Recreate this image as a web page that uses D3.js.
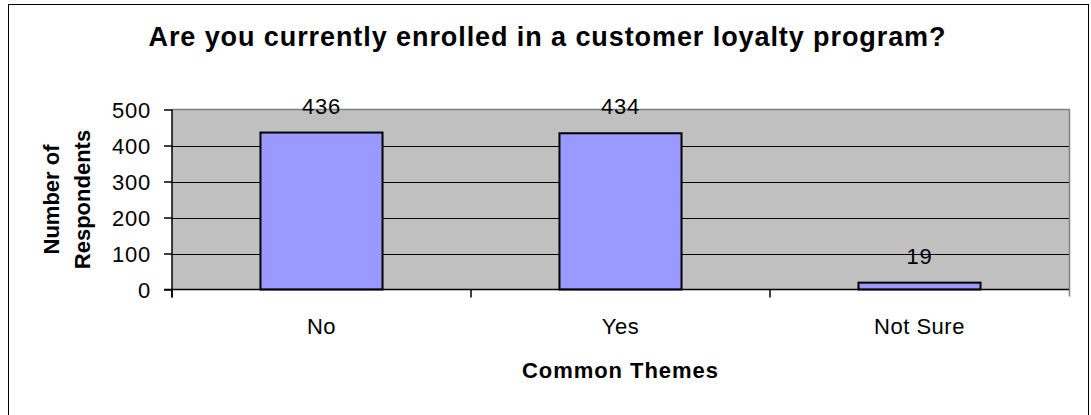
<!DOCTYPE html>
<html>
<head>
<meta charset="utf-8">
<script src="https://cdn.jsdelivr.net/npm/d3@7"></script>
<style>
  html, body { margin: 0; padding: 0; background: #fff; }
  svg { display: block; }
  text { font-family: "Liberation Sans", Arial, sans-serif; fill: #000; }
</style>
</head>
<body>
<svg id="chart" width="1091" height="415"></svg>
<script>
const categories = ["No", "Yes", "Not Sure"];
const values = [436, 434, 19];
const yTicks = [0, 100, 200, 300, 400, 500];
const titleText = "Are you currently enrolled in a customer loyalty program?";
const xTitle = "Common Themes";
const yTitleLines = ["Number of", "Respondents"];

const svg = d3.select("#chart");
const plot = { left: 172, right: 1069, top: 109.5, bottom: 289.5 };

// outer frame
svg.append("rect")
  .attr("x", 8.5).attr("y", 4.5)
  .attr("width", 1080).attr("height", 430)
  .attr("fill", "#fff").attr("stroke", "#000").attr("stroke-width", 1);

const x = d3.scaleBand().domain(categories).range([plot.left, plot.right]).padding(0);
const y = d3.scaleLinear().domain([0, 500]).range([plot.bottom, plot.top]);

// plot background
svg.append("rect")
  .attr("x", plot.left).attr("y", plot.top)
  .attr("width", plot.right - plot.left).attr("height", plot.bottom - plot.top)
  .attr("fill", "#c0c0c0");

// gridlines
svg.append("g").selectAll("line")
  .data(yTicks.filter(t => t > 0 && t < 500))
  .join("line")
  .attr("x1", plot.left).attr("x2", plot.right)
  .attr("y1", d => Math.round(y(d)) + 0.5).attr("y2", d => Math.round(y(d)) + 0.5)
  .attr("stroke", "#000").attr("stroke-width", 1);

// plot border top/right gray
svg.append("path")
  .attr("d", `M${plot.left},${plot.top}H${plot.right + 0.5}V${plot.bottom + 7}`)
  .attr("fill", "none").attr("stroke", "#808080").attr("stroke-width", 1.5);

// bars
const bw = x.bandwidth() / 2.45;
const barData = categories.map((c, i) => ({ c, v: values[i] }));
svg.append("g").selectAll("rect")
  .data(barData)
  .join("rect")
  .attr("x", d => x(d.c) + (x.bandwidth() - bw) / 2)
  .attr("y", d => y(d.v))
  .attr("width", bw)
  .attr("height", d => y(0) - y(d.v))
  .attr("fill", "#9999ff")
  .attr("stroke", "#000").attr("stroke-width", 2);

// value labels
svg.append("g").selectAll("text")
  .data(barData)
  .join("text")
  .attr("x", d => x(d.c) + x.bandwidth() / 2)
  .attr("y", d => y(d.v) - 19)
  .attr("text-anchor", "middle")
  .style("font-size", "22px").style("letter-spacing", "0.8px")
  .text(d => d.v);

// y axis
const yAxis = d3.axisLeft(y).tickValues(yTicks).tickSize(8).tickPadding(13);
const gy = svg.append("g").attr("transform", `translate(${plot.left},0)`).call(yAxis);
gy.select(".domain").attr("stroke", "#000").attr("stroke-width", 1.5).attr("d", `M0,${plot.top}V${plot.bottom + 8}`);
gy.selectAll(".tick line").attr("stroke", "#000").attr("stroke-width", 1.5);
gy.selectAll(".tick text")
  .style("font-size", "22px").style("letter-spacing", "0.8px")
  .style("font-family", "'Liberation Sans', Arial, sans-serif")
  .attr("fill", "#000").attr("dy", "0.36em");

// x axis
const boundaries = [plot.left, ...categories.map(c => x(c) + x.bandwidth())];
const gx = svg.append("g");
gx.append("line")
  .attr("x1", plot.left - 8).attr("x2", plot.right)
  .attr("y1", plot.bottom).attr("y2", plot.bottom)
  .attr("stroke", "#000").attr("stroke-width", 1.5);
gx.selectAll("line.tk").data(boundaries.slice(0, -1)).join("line").attr("class", "tk")
  .attr("x1", d => d).attr("x2", d => d)
  .attr("y1", plot.bottom).attr("y2", plot.bottom + 8)
  .attr("stroke", "#000").attr("stroke-width", 1.5);
gx.selectAll("text").data(categories).join("text")
  .attr("x", d => x(d) + x.bandwidth() / 2)
  .attr("y", 334)
  .attr("text-anchor", "middle")
  .style("font-size", "22px").style("letter-spacing", "0.5px")
  .text(d => d);

// title
svg.append("text")
  .attr("x", 547).attr("y", 46)
  .attr("text-anchor", "middle")
  .style("font-size", "27px").style("font-weight", "bold")
  .attr("textLength", 797).attr("lengthAdjust", "spacing")
  .text(titleText);

// x title
svg.append("text")
  .attr("x", 620).attr("y", 378)
  .attr("text-anchor", "middle")
  .style("font-size", "22px").style("font-weight", "bold")
  .attr("textLength", 196).attr("lengthAdjust", "spacing")
  .text(xTitle);

// y title
const yt = svg.append("text")
  .attr("transform", `translate(0,${(plot.top + plot.bottom) / 2}) rotate(-90)`)
  .attr("text-anchor", "middle")
  .style("font-size", "22px").style("font-weight", "bold");
yt.append("tspan").attr("x", 0).attr("y", 58.5).text(yTitleLines[0]);
yt.append("tspan").attr("x", 0).attr("y", 89.5).text(yTitleLines[1]);
</script>
</body>
</html>
